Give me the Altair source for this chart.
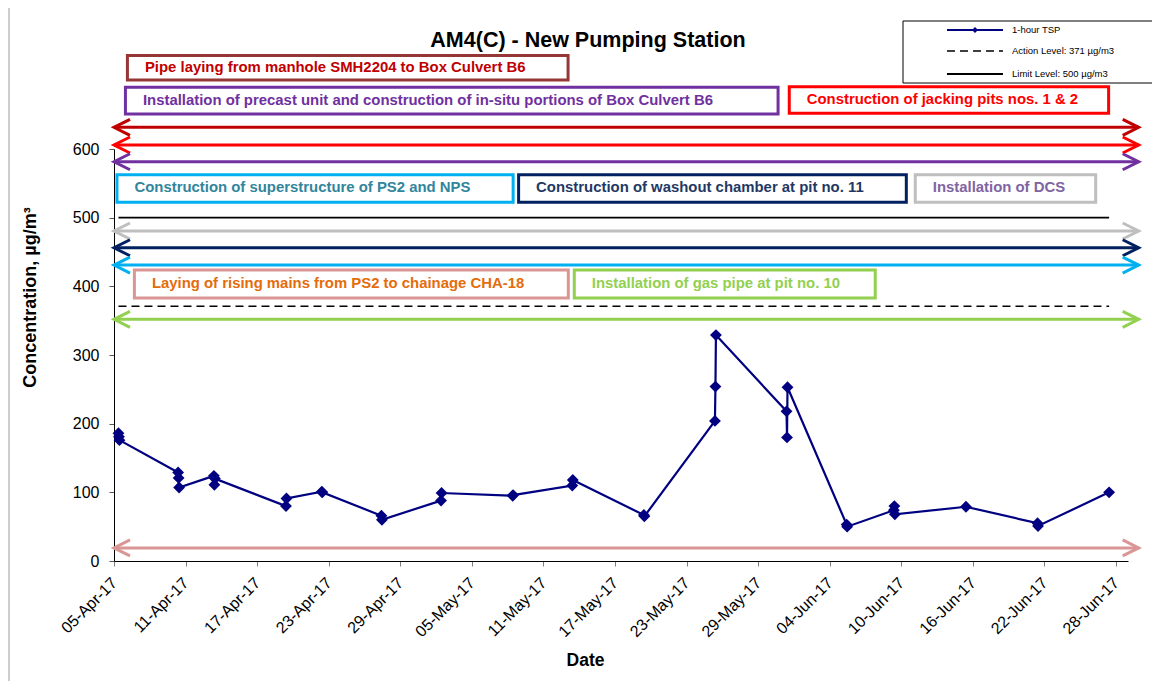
import altair as alt
import pandas as pd

FONT = "Liberation Sans"

# ---------------- data ----------------
SAMPLE_TIME = [
    "2017-04-05T09:00:00", "2017-04-05T10:00:00", "2017-04-05T11:00:00",
    "2017-04-10T09:00:00", "2017-04-10T10:00:00", "2017-04-10T11:00:00",
    "2017-04-13T09:00:00", "2017-04-13T10:00:00", "2017-04-13T11:00:00",
    "2017-04-19T10:00:00", "2017-04-19T11:00:00",
    "2017-04-22T10:00:00", "2017-04-22T11:00:00",
    "2017-04-27T10:00:00", "2017-04-27T11:00:00",
    "2017-05-02T10:00:00", "2017-05-02T11:00:00",
    "2017-05-08T10:00:00", "2017-05-08T11:00:00",
    "2017-05-13T10:00:00", "2017-05-13T11:00:00",
    "2017-05-19T10:00:00", "2017-05-19T11:00:00",
    "2017-05-25T09:00:00", "2017-05-25T10:00:00", "2017-05-25T11:00:00",
    "2017-05-31T09:00:00", "2017-05-31T10:00:00", "2017-05-31T11:00:00",
    "2017-06-05T10:00:00", "2017-06-05T11:00:00",
    "2017-06-09T09:00:00", "2017-06-09T10:00:00", "2017-06-09T11:00:00",
    "2017-06-15T10:00:00",
    "2017-06-21T10:00:00", "2017-06-21T11:00:00",
    "2017-06-27T10:00:00",
]
TSP_1HR = [186, 181, 176, 129, 121, 107, 124, 111, 120, 80, 91, 101, 100,
           66, 60, 88, 99, 95, 96, 110, 118, 67, 65, 204, 254, 329,
           218, 180, 253, 53, 50, 74, 80, 68, 79, 55, 51, 100]

ACTION_LEVEL = 371
LIMIT_LEVEL = 500

TICK_DATES = ["2017-04-05", "2017-04-11", "2017-04-17", "2017-04-23", "2017-04-29",
              "2017-05-05", "2017-05-11", "2017-05-17", "2017-05-23", "2017-05-29",
              "2017-06-04", "2017-06-10", "2017-06-16", "2017-06-22", "2017-06-28"]
Y_TICKS = [0, 100, 200, 300, 400, 500, 600]
X_DOMAIN = ["2017-04-05", "2017-06-29"]

TITLE = "AM4(C) - New Pumping Station"
Y_TITLE = "Concentration, µg/m³"
X_TITLE = "Date"
LEGEND_LABELS = ["1-hour TSP", "Action Level: 371 µg/m3", "Limit Level: 500 µg/m3"]

# construction activities (arrows spanning the period, and their labels)
ACTIVITY = [
    "Pipe laying from manhole SMH2204 to Box Culvert B6",
    "Construction of jacking pits nos. 1 & 2",
    "Installation of precast unit and construction of in-situ portions of Box Culvert B6",
    "Installation of DCS",
    "Construction of washout chamber at pit no. 11",
    "Construction of superstructure of PS2 and NPS",
    "Installation of gas pipe at pit no. 10",
    "Laying of rising mains from PS2 to chainage CHA-18",
]
ARROW_LEVEL = [631.6, 605.8, 581.4, 480.6, 456.2, 431.0, 351.9, 19.0]
ARROW_START = "2017-04-05T00:00:00"
ARROW_END = "2017-06-29T21:30:00"

LABEL_START = ["2017-04-06T03:00:00", "2017-05-31T14:30:00", "2017-04-05T23:00:00",
               "2017-06-11T04:00:00", "2017-05-08T22:00:00", "2017-04-05T06:00:00",
               "2017-05-13T14:00:00", "2017-04-06T17:00:00"]
LABEL_END = ["2017-05-13T01:30:00", "2017-06-27T09:00:00", "2017-05-30T16:00:00",
             "2017-06-26T07:00:00", "2017-06-10T10:00:00", "2017-05-08T11:00:00",
             "2017-06-07T19:30:00", "2017-05-13T02:00:00"]
LABEL_TOP = [736.0, 690.7, 690.0, 562.6, 562.6, 562.6, 423.8, 423.8]
LABEL_BOTTOM = [700.5, 652.0, 651.0, 522.4, 522.4, 522.4, 383.0, 383.0]

# ---------------- styles ----------------
ARROW_COLOR = ["#C00000", "#FF0000", "#7030A0", "#BFBFBF", "#002060", "#00B0F0", "#92D050", "#D99694"]
BORDER_COLOR = ["#953735", "#FF0000", "#7030A0", "#BFBFBF", "#002060", "#00B0F0", "#92D050", "#D99694"]
TEXT_COLOR = ["#C00000", "#FF0000", "#7030A0", "#8064A2", "#1F3864", "#31859C", "#92D050", "#E46C0A"]
NAVY = "#000080"

W, H = 1014, 412
PAD_L, PAD_T = 106, 141


def dt(s):
    d = pd.Timestamp(s)
    return alt.DateTime(year=d.year, month=d.month, date=d.day, hours=d.hour, minutes=d.minute)


X_SCALE = alt.Scale(domain=[dt(X_DOMAIN[0]), dt(X_DOMAIN[1])], nice=False)
Y_SCALE = alt.Scale(domain=[0, 600], nice=False, zero=True)

X_AXIS = alt.Axis(values=[dt(d) for d in TICK_DATES], format="%d-%b-%y", labelAngle=315,
                  labelAlign="right", labelBaseline="middle", labelFont=FONT, labelFontSize=16,
                  labelColor="black", labelPadding=14, labelFlush=False, labelOverlap=False,
                  tickSize=5, tickColor="#7f7f7f", domainColor="black", grid=False,
                  title=X_TITLE, titleFont=FONT, titleFontSize=17.5, titleFontWeight="bold",
                  titleColor="black", titleX=471, titleY=99, titleAlign="center",
                  titleBaseline="middle")
Y_AXIS = alt.Axis(values=Y_TICKS, labelFont=FONT, labelFontSize=16, labelColor="black",
                  labelPadding=10, tickSize=5, tickColor="#555555", domainColor="black",
                  grid=False, title=Y_TITLE, titleFont=FONT, titleFontSize=18,
                  titleFontWeight="bold", titleColor="black", titleAngle=270,
                  titleX=-84, titleY=148, titleAlign="center", titleBaseline="middle")


def xs(field):
    return alt.X(field, scale=X_SCALE, axis=X_AXIS)


def ys(field):
    return alt.Y(field, scale=Y_SCALE, axis=Y_AXIS)


series = pd.DataFrame({"time": SAMPLE_TIME, "tsp": TSP_1HR})

acts = pd.DataFrame({
    "activity": ACTIVITY,
    "level": ARROW_LEVEL,
    "start": [ARROW_START] * len(ACTIVITY),
    "end": [ARROW_END] * len(ACTIVITY),
    "color": ARROW_COLOR,
    "bstart": LABEL_START,
    "bend": LABEL_END,
    "btop": LABEL_TOP,
    "bbot": LABEL_BOTTOM,
    "bmid": [(a + b) / 2 for a, b in zip(LABEL_TOP, LABEL_BOTTOM)],
    "border": BORDER_COLOR,
    "tcolor": TEXT_COLOR,
})

first_t, last_t = SAMPLE_TIME[0], SAMPLE_TIME[-1]
levels = pd.DataFrame({"t0": [first_t, first_t], "t1": [last_t, last_t],
                       "level": [ACTION_LEVEL, LIMIT_LEVEL], "kind": ["action", "limit"]})

# arrows
shafts = alt.Chart(acts).mark_rule(strokeWidth=3).encode(
    x=xs("start:T"), x2="end:T", y=ys("level:Q"),
    color=alt.Color("color:N", scale=None))
head_l = alt.Chart(acts).mark_point(shape="M2,-1L0,0L2,1", filled=False, strokeWidth=3,
                                    size=256, opacity=1).encode(
    x=xs("start:T"), y=ys("level:Q"), stroke=alt.Stroke("color:N", scale=None))
head_r = alt.Chart(acts).mark_point(shape="M-2,-1L0,0L-2,1", filled=False, strokeWidth=3,
                                    size=256, opacity=1).encode(
    x=xs("end:T"), y=ys("level:Q"), stroke=alt.Stroke("color:N", scale=None))

# label boxes
boxes = alt.Chart(acts).mark_rect(fill="white", strokeWidth=3).encode(
    x=xs("bstart:T"), x2="bend:T", y=ys("btop:Q"), y2="bbot:Q",
    stroke=alt.Stroke("border:N", scale=None))
box_text = alt.Chart(acts).mark_text(align="left", baseline="middle", dx=17.5, font=FONT,
                                     fontSize=14.9, fontWeight="bold").encode(
    x=xs("bstart:T"), y=ys("bmid:Q"), text="activity:N",
    color=alt.Color("tcolor:N", scale=None))

# action / limit levels
action = alt.Chart(levels[levels.kind == "action"]).mark_rule(
    color="black", strokeWidth=1.7, strokeDash=[8, 5]).encode(
    x=xs("t0:T"), x2="t1:T", y=ys("level:Q"))
limit = alt.Chart(levels[levels.kind == "limit"]).mark_rule(
    color="black", strokeWidth=1.8).encode(
    x=xs("t0:T"), x2="t1:T", y=ys("level:Q"))

# main series
line = alt.Chart(series).mark_line(color=NAVY, strokeWidth=2.2).encode(
    x=xs("time:T"), y=ys("tsp:Q"))
pts = alt.Chart(series).mark_point(shape="diamond", filled=True, size=140, color=NAVY,
                                   opacity=1).encode(x=xs("time:T"), y=ys("tsp:Q"))

# title
title = alt.Chart(pd.DataFrame({"t": [TITLE]})).mark_text(
    font=FONT, fontSize=21.5, fontWeight="bold", align="center", baseline="middle",
    color="black").encode(x=alt.value(474), y=alt.value(-108), text="t:N")

# legend (drawn manually, positioned relative to plot origin)
LX0, LX1, LY0, LY1 = 903 - 114, 1157 - 114, 21 - 149, 83 - 149
SX0, SX1, TX = 947 - 114, 1003 - 114, 1012 - 114
rows_y = [30 - 149, 51 - 149, 74 - 149]
leg_df = pd.DataFrame({"label": LEGEND_LABELS})
leg_box = alt.Chart(leg_df.head(1)).mark_rect(fill="white", stroke="black", strokeWidth=1).encode(
    x=alt.value(LX0), x2=alt.value(LX1), y=alt.value(LY0), y2=alt.value(LY1))
leg_l1 = alt.Chart(leg_df.head(1)).mark_rule(color=NAVY, strokeWidth=2).encode(
    x=alt.value(SX0), x2=alt.value(SX1), y=alt.value(rows_y[0]))
leg_p1 = alt.Chart(leg_df.head(1)).mark_point(shape="diamond", filled=True, size=36,
                                              color=NAVY, opacity=1).encode(
    x=alt.value((SX0 + SX1) / 2), y=alt.value(rows_y[0]))
leg_l2 = alt.Chart(leg_df.head(1)).mark_rule(color="black", strokeWidth=1.7,
                                             strokeDash=[8, 5]).encode(
    x=alt.value(SX0), x2=alt.value(SX1), y=alt.value(rows_y[1]))
leg_l3 = alt.Chart(leg_df.head(1)).mark_rule(color="black", strokeWidth=1.8).encode(
    x=alt.value(SX0), x2=alt.value(SX1), y=alt.value(rows_y[2]))
leg_texts = [
    alt.Chart(leg_df.iloc[[i]]).mark_text(font=FONT, fontSize=9.5, align="left",
                                          baseline="middle", color="black").encode(
        x=alt.value(TX), y=alt.value(rows_y[i]), text="label:N")
    for i in range(3)
]

frame = alt.Chart(leg_df.head(1)).mark_rule(color="#9a9a9a", strokeWidth=1).encode(
    x=alt.value(-105), y=alt.value(-141), y2=alt.value(532))

chart = alt.layer(
    shafts, head_l, head_r, boxes, box_text, action, limit, line, pts, title,
    leg_box, leg_l1, leg_p1, leg_l2, leg_l3, *leg_texts, frame
).properties(
    width=W, height=H,
    padding={"left": PAD_L, "top": PAD_T, "right": 24, "bottom": 120},
    autosize=alt.AutoSizeParams(type="none"),
).configure_view(strokeWidth=0)

chart.save("out.html", embed_options={"renderer": "svg", "actions": False})
